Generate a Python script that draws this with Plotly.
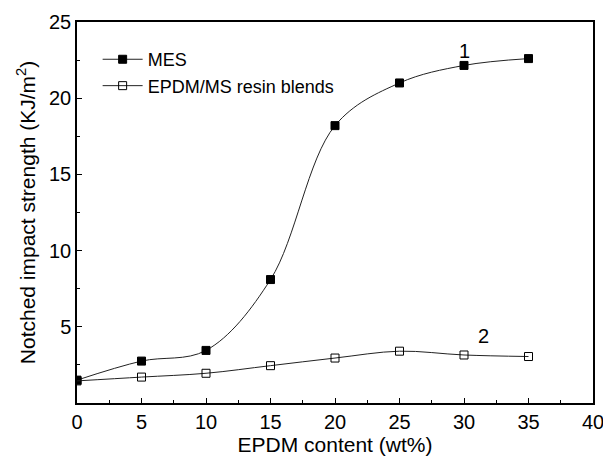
import plotly.graph_objects as go

# EPDM content (wt%)
epdm_content = [0, 5, 10, 15, 20, 25, 30, 35]
# Notched impact strength (KJ/m2)
mes_strength = [1.5, 2.75, 3.45, 8.1, 18.2, 21.0, 22.15, 22.6]
blend_strength = [1.45, 1.7, 1.95, 2.45, 2.95, 3.4, 3.15, 3.05]

x_ticks = [0, 5, 10, 15, 20, 25, 30, 35, 40]
y_ticks = [5, 10, 15, 20, 25]

FONT = "Liberation Sans, Arial, sans-serif"

fig = go.Figure()
fig.add_trace(go.Scatter(
    x=epdm_content, y=mes_strength, name="MES",
    mode="lines+markers",
    line=dict(color="#222222", width=1, shape="spline", smoothing=1.0),
    marker=dict(symbol="square", size=8, color="black",
                line=dict(color="black", width=1)),
))
fig.add_trace(go.Scatter(
    x=epdm_content, y=blend_strength, name="EPDM/MS resin blends",
    mode="lines+markers",
    line=dict(color="#222222", width=1, shape="spline", smoothing=1.0),
    marker=dict(symbol="square-open", size=8, color="black",
                line=dict(color="black", width=1)),
))

fig.add_annotation(x=30, y=23.1, text="1", showarrow=False,
                   font=dict(family=FONT, size=20, color="black"))
fig.add_annotation(x=31.5, y=4.4, text="2", showarrow=False,
                   font=dict(family=FONT, size=20, color="black"))

axis_common = dict(
    showline=True, linecolor="black", linewidth=1.5, mirror=True,
    ticks="inside", ticklen=5, tickwidth=1, tickcolor="black",
    showgrid=False, zeroline=False, automargin=False,
    ticklabeloverflow="allow",
    tickfont=dict(family=FONT, size=20, color="black"),
)

fig.update_xaxes(
    range=[0, 40], tickvals=x_ticks, ticktext=[str(v) for v in x_ticks],
    title=dict(text="EPDM content (wt%)", standoff=4,
               font=dict(family=FONT, size=21, color="black")),
    minor=dict(ticks="inside", ticklen=3, tick0=0, dtick=2.5,
               tickcolor="black", tickwidth=1),
    **axis_common,
)
fig.update_yaxes(
    range=[0, 25], tickvals=y_ticks, ticktext=[str(v) for v in y_ticks],
    title=dict(text="Notched impact strength (KJ/m<sup>2</sup>)", standoff=8,
               font=dict(family=FONT, size=21, color="black")),
    minor=dict(ticks="inside", ticklen=3, tick0=0, dtick=2.5,
               tickcolor="black", tickwidth=1),
    **axis_common,
)

fig.update_layout(
    width=603, height=465,
    margin=dict(l=77, r=10, t=22, b=62),
    paper_bgcolor="white", plot_bgcolor="white",
    showlegend=True,
    legend=dict(x=0.04, y=0.95, xanchor="left", yanchor="top",
                bgcolor="rgba(0,0,0,0)", borderwidth=0,
                font=dict(family=FONT, size=18, color="black"),
                tracegroupgap=0, itemwidth=40),
)

fig.write_html("out.html")
